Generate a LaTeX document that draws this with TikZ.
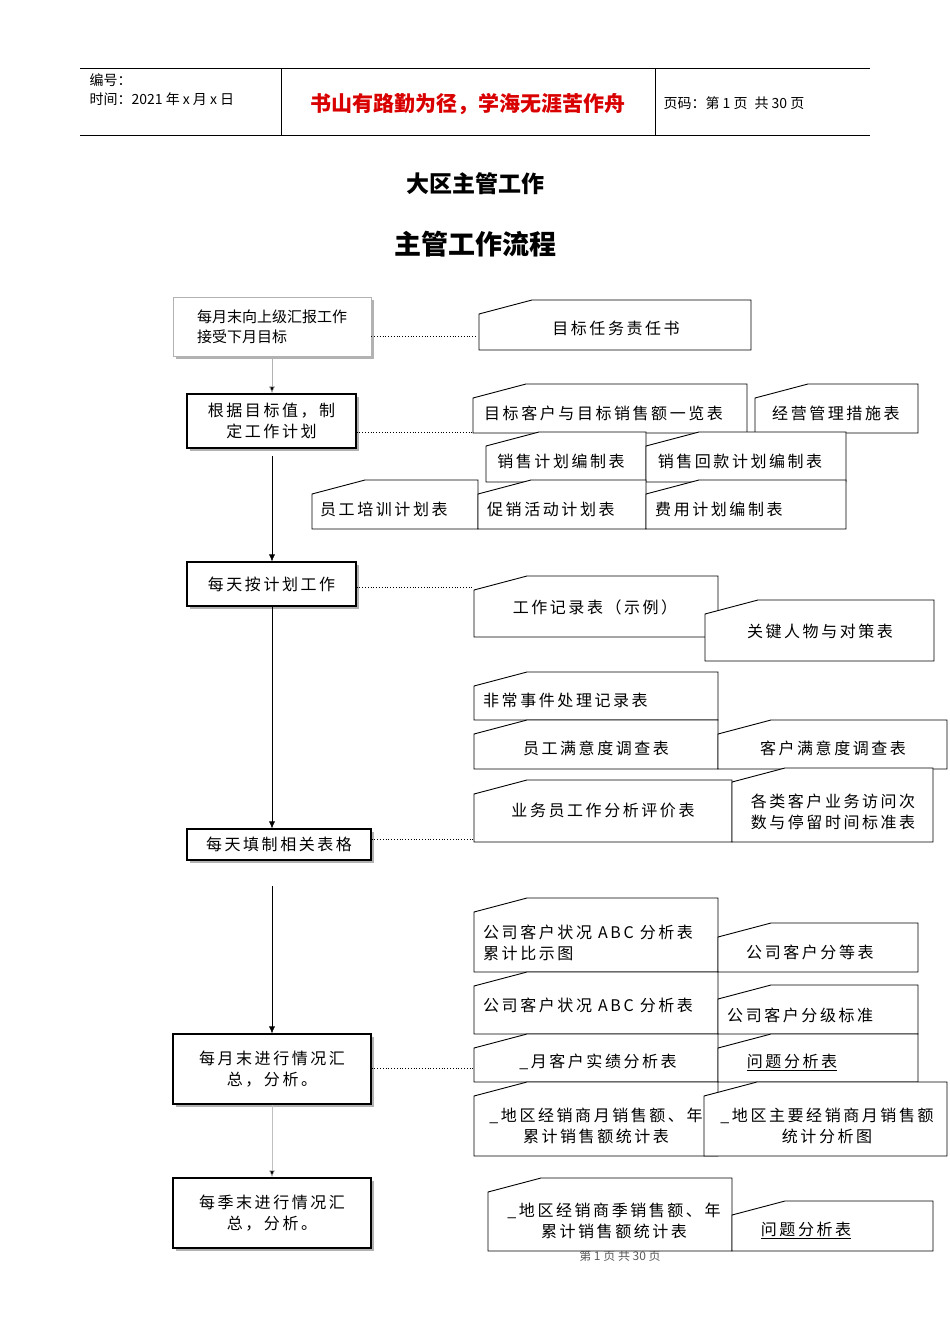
\documentclass[tikz,border=0pt]{standalone}
\usepackage{fontspec}
\setmainfont{Liberation Sans}
\newfontfamily\cjk{Noto Sans CJK SC}
\newfontfamily\cjks[LetterSpace=16]{Noto Sans CJK SC}
\usetikzlibrary{shadows,arrows.meta}
\newcommand\card[7]{\draw[cardbox] (#1,#2+14)--(#1+53,#2)--(#3,#2)--(#3,#4)--(#1,#4)--cycle; \node[cardtxt] at (#5,#6) {#7};}
\newcommand\lcard[7]{\draw[cardbox] (#1,#2+14)--(#1+53,#2)--(#3,#2)--(#3,#4)--(#1,#4)--cycle; \node[cardtxt,anchor=west,align=left,inner xsep=0pt] at (#5,#6) {#7};}
\begin{document}
\begin{tikzpicture}[x=1pt,y=-1pt,
 cardbox/.style={draw=black,fill=white,line width=0.9pt},
 cardtxt/.style={font=\cjks\fontsize{16}{21}\selectfont,align=center},
 proc/.style={draw=black,fill=white,line width=1.1pt,font=\cjks\fontsize{16}{21}\selectfont,align=center,
   drop shadow={shadow xshift=3pt,shadow yshift=-3pt,fill=gray!60,opacity=1}},
 link/.style={line width=0.6pt,-{Latex[length=7pt,width=6pt,fill=black]}},
 dots/.style={dotted,line width=0.8pt}]
\useasboundingbox (0,0) rectangle (950,1344);
% header
\draw[line width=0.6pt] (80,68)--(870,68) (80,135)--(870,135) (281,68)--(281,135) (655,68)--(655,135);
\node[anchor=west,font=\cjk\fontsize{14}{15}\selectfont] (h1) at (86,80) {编号：};
\node[anchor=west,font=\cjk\fontsize{14}{15}\selectfont] (h2) at (86,99) {时间：2021 年 x 月 x 日};
\node[font=\cjk\bfseries\fontsize{21}{24}\selectfont,text=red!85!black] (h3) at (468,104) {书山有路勤为径，学海无涯苦作舟};
\node[anchor=west,font=\cjk\fontsize{14}{15}\selectfont] (h4) at (660,103) {页码：第 1 页\enspace 共 30 页};
\node[font=\cjk\bfseries\fontsize{23}{26}\selectfont] (t1) at (475,184) {大区主管工作};
\node[font=\cjk\bfseries\fontsize{27}{30}\selectfont] (t2) at (475,244) {主管工作流程};
% process boxes
\node[proc,draw=gray!60,line width=0.6pt,minimum width=198,minimum height=59,align=left,font=\cjk\fontsize{15}{20}\selectfont] (A) at (272,326.5) {每月末向上级汇报工作\\接受下月目标};
\node[proc,minimum width=169,minimum height=54] (B) at (271.5,421) {根据目标值，制\\定工作计划};
\node[proc,minimum width=169,minimum height=44] (C) at (271.5,584) {每天按计划工作};
\node[proc,minimum width=184,minimum height=31] (D) at (279,844.5) {每天填制相关表格};
\node[proc,minimum width=198,minimum height=70] (E) at (272,1069) {每月末进行情况汇\\总，分析。};
\node[proc,minimum width=198,minimum height=70] (F) at (272,1213) {每季末进行情况汇\\总，分析。};
\coordinate (Bb) at (272,456);
\coordinate (Db) at (272,886);
\draw[link,draw=gray!60] (A.south -| Bb) -- (B.north -| Bb);
\draw[link] (Bb) -- (C.north -| Bb);
\draw[link] (C.south -| Bb) -- (D.north -| Bb);
\draw[link] (Db) -- (E.north -| Bb);
\draw[link,draw=gray!50] (E.south -| Bb) -- (F.north -| Bb);
% dotted connectors
\coordinate (c1) at (475,336); \coordinate (c2) at (473,432); \coordinate (c3) at (473,587);
\coordinate (c4) at (473,839); \coordinate (c5) at (487,1068);
\draw[dots] (A.east |- c1) -- (c1);
\draw[dots] (B.east |- c2) -- (c2);
\draw[dots] (C.east |- c3) -- (c3);
\draw[dots] (D.east |- c4) -- (c4);
\draw[dots] (E.east |- c5) -- (c5);
% cards
\card{479}{300}{751}{350}{616}{328}{目标任务责任书}
\lcard{473}{384}{747}{433}{484}{413}{目标客户与目标销售额一览表}
\lcard{755}{384}{918}{433}{772}{413}{经营管理措施表}
\card{486}{432}{646}{482}{561}{461}{销售计划编制表}
\card{646}{432}{846}{482}{740}{461}{销售回款计划编制表}
\lcard{312}{480}{478}{529}{320}{509}{员工培训计划表}
\lcard{478}{480}{646}{529}{487}{509}{促销活动计划表}
\lcard{646}{480}{846}{529}{655}{509}{费用计划编制表}
\card{474}{576}{718}{637}{595}{607}{工作记录表（示例）}
\card{705}{600}{934}{661}{820}{631}{关键人物与对策表}
\lcard{474}{672}{718}{720}{483}{700}{非常事件处理记录表}
\card{474}{720}{718}{769}{596}{748}{员工满意度调查表}
\card{718}{720}{947}{769}{833}{748}{客户满意度调查表}
\card{474}{780}{732}{842}{603}{810}{业务员工作分析评价表}
\card{732}{768}{933}{842}{833}{812}{各类客户业务访问次\\数与停留时间标准表}
\lcard{474}{898}{718}{972}{483}{943}{公司客户状况 ABC 分析表\\累计比示图}
\lcard{718}{923}{918}{972}{746}{952}{公司客户分等表}
\lcard{474}{972}{718}{1034}{483}{1005}{公司客户状况 ABC 分析表}
\lcard{718}{985}{918}{1034}{727}{1015}{公司客户分级标准}
\card{474}{1034}{718}{1082}{598}{1062}{\_月客户实绩分析表}
\card{718}{1034}{918}{1082}{792}{1062}{\underline{问题分析表}}
\card{474}{1082}{718}{1156}{596}{1126}{\_地区经销商月销售额、年\\累计销售额统计表}
\card{704}{1082}{947}{1156}{827}{1126}{\_地区主要经销商月销售额\\统计分析图}
\node[font=\cjk\fontsize{12}{14}\selectfont,text=gray!70!black] (ft) at (620,1256) {第 1 页 共 30 页};
\card{488}{1178}{732}{1251}{614}{1221}{\_地区经销商季销售额、年\\累计销售额统计表}
\card{732}{1201}{933}{1251}{806}{1230}{\underline{问题分析表}}
\end{tikzpicture}
\end{document}
